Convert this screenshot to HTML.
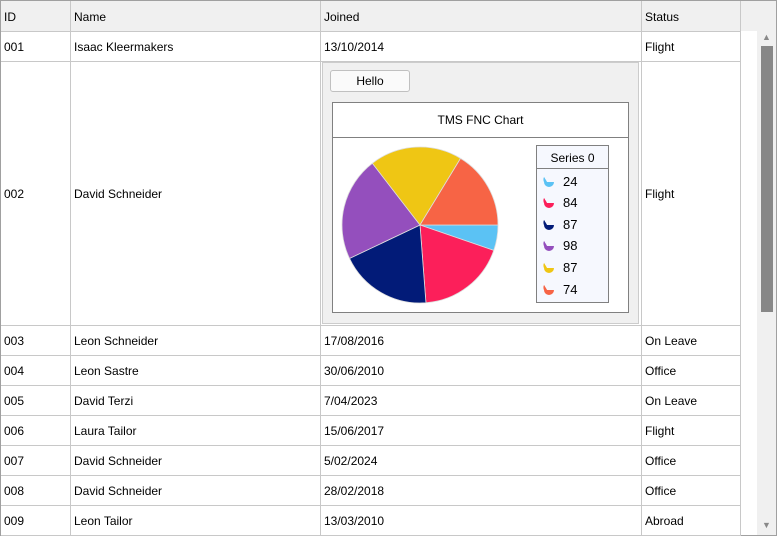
<!DOCTYPE html><html><head><style>
body{margin:0;width:777px;height:536px;overflow:hidden;font-family:"Segoe UI","Liberation Sans",sans-serif;font-size:12px;color:#000;background:#fff}
.a{position:absolute}
.t{position:absolute;white-space:nowrap}
</style></head><body>
<div class="a" style="left:0;top:0;width:775px;height:534px;border:1px solid #a0a0a0"></div>
<div class="a" style="left:1px;top:1px;width:775px;height:30px;background:#f0f0f0;border-bottom:1px solid #c8c8c8"></div>
<div id="g"></div>
<div class="a" style="left:741px;top:31px;width:35px;height:504px;background:#fff"></div>
<div class="a" style="left:757px;top:31px;width:19px;height:504px;background:#f0f0f0"></div>
<div class="a" style="left:761px;top:46px;width:12px;height:266px;background:#878787"></div>
<div class="t" style="left:762px;top:32px;font-size:9px;color:#888">▲</div>
<div class="t" style="left:762px;top:520px;font-size:9px;color:#888">▼</div>
<div class="a" style="left:322px;top:62px;width:315px;height:260px;background:#f0f0f0;border:1px solid #ccc"></div>
<div class="a" style="left:330px;top:70px;width:78px;height:20px;background:#fafafa;border:1px solid #c0c0c0;border-radius:3px;text-align:center;line-height:21px">Hello</div>
<div class="a" style="left:332px;top:102px;width:295px;height:209px;background:#fff;border:1px solid #808080"></div>
<div class="a" style="left:333px;top:137px;width:295px;height:1px;background:#808080"></div>
<div class="t" style="left:332px;top:113px;width:297px;text-align:center">TMS FNC Chart</div>
<svg class="a" style="left:0;top:0" width="777" height="536" id="pie"></svg>
<div class="a" style="left:536px;top:145px;width:71px;height:156px;background:#f6f8fe;border:1px solid #808080"></div>
<div class="a" style="left:537px;top:168px;width:71px;height:1px;background:#808080"></div>
<div class="t" style="left:536px;top:151px;width:73px;text-align:center">Series 0</div>
<div id="lg"></div>
<script>
var cols=[70,320,641,740],rows=[31,61,325,355,385,415,445,475,505,535];
var g='';
cols.forEach(function(x){g+='<div class="a" style="left:'+x+'px;top:1px;width:1px;height:534px;background:#c8c8c8"></div>'});
rows.forEach(function(y){g+='<div class="a" style="left:1px;top:'+y+'px;width:740px;height:1px;background:#c8c8c8"></div>'});
var hd=[['ID',4],['Name',74],['Joined',324],['Status',645]];
hd.forEach(function(h){g+='<div class="t" style="left:'+h[1]+'px;top:10px">'+h[0]+'</div>'});
var d=[['001','Isaac Kleermakers','13/10/2014','Flight'],['002','David Schneider','','Flight'],['003','Leon Schneider','17/08/2016','On Leave'],['004','Leon Sastre','30/06/2010','Office'],['005','David Terzi','7/04/2023','On Leave'],['006','Laura Tailor','15/06/2017','Flight'],['007','David Schneider','5/02/2024','Office'],['008','David Schneider','28/02/2018','Office'],['009','Leon Tailor','13/03/2010','Abroad']];
d.forEach(function(r,i){var y=(rows[i]+rows[i+1])/2-6;[4,74,324,645].forEach(function(x,j){if(r[j])g+='<div class="t" style="left:'+x+'px;top:'+y+'px">'+r[j]+'</div>'})});
document.getElementById('g').innerHTML=g;
var v=[24,84,87,98,87,74],c=['#5bc2f4','#fc1f5a','#021b78','#944fbd','#efc614','#f76445'];
var tot=454,a=0,cx=420,cy=225,R=78,s='';
v.forEach(function(n,i){var b=a+n/tot*2*Math.PI;
s+='<path d="M'+cx+' '+cy+'L'+(cx+R*Math.cos(a))+' '+(cy+R*Math.sin(a))+'A'+R+' '+R+' 0 '+(b-a>Math.PI?1:0)+' 1 '+(cx+R*Math.cos(b))+' '+(cy+R*Math.sin(b))+'Z" fill="'+c[i]+'" stroke="#ddd" stroke-width="0.8"/>';a=b;});
document.getElementById('pie').innerHTML=s;
var l='',ys=[182,203,225,246,268,290];
v.forEach(function(n,i){var y=ys[i];
l+='<svg class="a" style="left:543px;top:'+(y-6)+'px" width="12" height="12"><path d="M1 1 L4 6 L11 6 A5 5 0 0 1 1 6 Z" fill="'+c[i]+'"/><path d="M1 1 A6 6 0 0 0 1 6 L4 6 Z" fill="'+c[i]+'"/></svg>';
l+='<div class="t" style="left:563px;top:'+(y-8)+'px;font-size:13px">'+n+'</div>'});
document.getElementById('lg').innerHTML=l;
</script>
</body></html>
